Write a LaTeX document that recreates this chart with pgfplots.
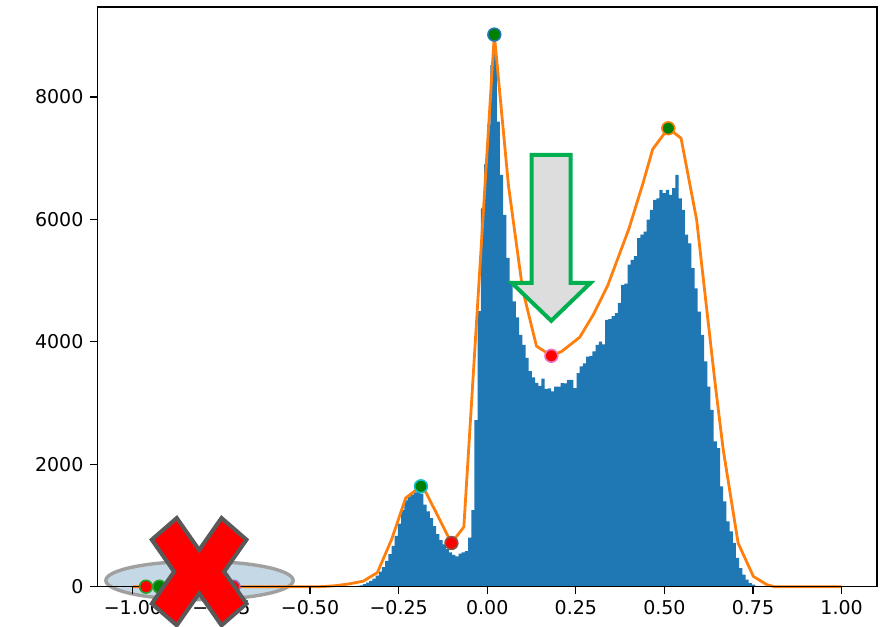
\documentclass[border=0pt]{standalone}
\usepackage{fontspec}
\setmainfont{DejaVu Sans}
\usepackage{pgfplots}
\pgfplotsset{compat=1.18}
\definecolor{c1}{HTML}{1F77B4}
\definecolor{c2}{HTML}{FF7F0E}
\definecolor{mgreen}{HTML}{008000}
\definecolor{ecyan}{HTML}{17BECF}
\definecolor{ebrown}{HTML}{8C564B}
\definecolor{epink}{HTML}{E377C2}
\definecolor{egreen}{HTML}{2CA02C}
\definecolor{epurple}{HTML}{9467BD}
\definecolor{arrgreen}{HTML}{00B050}
\definecolor{arrgray}{HTML}{DDDDDD}
\definecolor{ellblue}{RGB}{196,217,229}
\definecolor{ellgray}{HTML}{A0A0A0}
\definecolor{xgray}{HTML}{595959}
\begin{document}
\begin{tikzpicture}
\begin{axis}[
  scale only axis, width=390pt, height=290pt,
  xmin=-1.1, xmax=1.1, ymin=0, ymax=9471,
  clip=false, axis on top,
  axis line style={line width=0.6pt},
  tick align=outside, xtick pos=left, ytick pos=left,
  major tick length=3.5pt,
  tick style={line width=0.6pt, black},
  xtick={-1,-0.75,-0.5,-0.25,0,0.25,0.5,0.75,1},
  xticklabels={−1.00,−0.75,−0.50,−0.25,0.00,0.25,0.50,0.75,1.00},
  ytick={0,2000,4000,6000,8000},
  yticklabels={0,2000,4000,6000,8000},
  tick label style={font=\fontsize{9.5}{11}\selectfont},
]
\draw[line width=1.7pt, draw=ellgray, fill=ellblue] (axis cs:-0.812,101) ellipse [x radius=46.85pt, y radius=9.6pt];
\addplot[const plot, fill=c1, draw=none] coordinates {
(-0.396,5) (-0.387,8) (-0.378,11) (-0.369,15)
(-0.360,20) (-0.351,40) (-0.342,65) (-0.333,95) (-0.324,130) (-0.315,180)
(-0.306,245) (-0.297,320) (-0.288,420) (-0.279,530) (-0.270,665) (-0.261,830)
(-0.252,1030) (-0.243,1250) (-0.234,1410) (-0.225,1470) (-0.216,1505) (-0.207,1540)
(-0.198,1560) (-0.189,1520) (-0.180,1340) (-0.171,1230) (-0.162,1120) (-0.153,990)
(-0.144,860) (-0.135,760) (-0.126,690) (-0.117,615) (-0.108,560) (-0.099,520)
(-0.090,495) (-0.081,540) (-0.072,560) (-0.063,580) (-0.054,800) (-0.045,1250)
(-0.036,2720) (-0.027,4500) (-0.018,6180) (-0.009,6900) (0.000,7550) (0.009,8520)
(0.018,8700) (0.027,7600) (0.036,6730) (0.045,6075) (0.054,5370) (0.063,4990)
(0.072,4660) (0.081,4400) (0.090,4115) (0.099,3950) (0.108,3740) (0.117,3520)
(0.126,3420) (0.135,3330) (0.144,3280) (0.153,3400) (0.162,3230) (0.171,3240)
(0.180,3190) (0.189,3270) (0.198,3270) (0.207,3325) (0.216,3320) (0.225,3380)
(0.234,3380) (0.243,3245) (0.252,3490) (0.261,3600) (0.270,3650) (0.279,3760)
(0.288,3770) (0.297,3845) (0.306,3950) (0.315,4005) (0.324,3960) (0.333,4360)
(0.342,4370) (0.351,4420) (0.360,4470) (0.369,4635) (0.378,4930) (0.387,4950)
(0.396,5260) (0.405,5340) (0.414,5400) (0.423,5695) (0.432,5750) (0.441,5800)
(0.450,5995) (0.459,6155) (0.468,6320) (0.477,6345) (0.486,6485) (0.495,6430)
(0.504,6485) (0.513,6400) (0.522,6510) (0.531,6730) (0.540,6345) (0.549,6155)
(0.558,5750) (0.567,5610) (0.576,5205) (0.585,4875) (0.594,4495) (0.603,4115)
(0.612,3680) (0.621,3270) (0.630,2890) (0.639,2375) (0.648,2265) (0.657,1640)
(0.666,1395) (0.675,1065) (0.684,905) (0.693,715) (0.702,470) (0.711,305)
(0.720,195) (0.729,115) (0.738,60) (0.747,33) (0.756,15) (0.765,5) (0.774,0)
} \closedcycle;
\addplot[c2, line width=1.4pt, line join=round] coordinates {
(-1,0) (-0.47,0) (-0.43,15) (-0.39,45) (-0.35,90) (-0.31,230) (-0.27,770)
(-0.23,1450) (-0.187,1640) (-0.172,1530) (-0.101,713) (-0.066,975) (0.02,9020)
(0.06,6550) (0.10,4850) (0.139,3930) (0.162,3843) (0.181,3772) (0.21,3843)
(0.261,4075) (0.30,4450) (0.34,4920) (0.40,5850) (0.44,6600) (0.467,7148)
(0.511,7490) (0.547,7327) (0.591,5993) (0.643,3326) (0.666,2237) (0.708,713)
(0.751,168) (0.789,33) (0.81,0) (1.0,0)
};
\addplot[only marks, mark=*, mark size=3.2pt, mark options={fill=mgreen, draw=c1, line width=0.8pt}] coordinates {(0.02,9020)};
\addplot[only marks, mark=*, mark size=3.2pt, mark options={fill=mgreen, draw=ecyan, line width=0.8pt}] coordinates {(-0.187,1640)};
\addplot[only marks, mark=*, mark size=3.2pt, mark options={fill=mgreen, draw=c2, line width=0.8pt}] coordinates {(0.511,7490)};
\addplot[only marks, mark=*, mark size=3.2pt, mark options={fill=red, draw=ebrown, line width=0.8pt}] coordinates {(-0.101,713)};
\addplot[only marks, mark=*, mark size=3.2pt, mark options={fill=red, draw=epink, line width=0.8pt}] coordinates {(0.181,3772)};
\addplot[only marks, mark=*, mark size=3.2pt, mark options={fill=red, draw=egreen, line width=0.8pt}] coordinates {(-0.963,0)};
\addplot[only marks, mark=*, mark size=3.2pt, mark options={fill=mgreen, draw=egreen, line width=0.8pt}] coordinates {(-0.925,0)};
\addplot[only marks, mark=*, mark size=3.2pt, mark options={fill=red, draw=epurple, line width=0.8pt}] coordinates {(-0.716,0)};
\coordinate (tip) at (axis cs:0.1805,4344);
\coordinate (xc) at (axis cs:-0.813,245);
\end{axis}
\begin{scope}[shift={(tip)}]
\draw[line width=2pt, draw=arrgreen, fill=arrgray, line join=miter]
  (0,0) -- (-19.75pt,19pt) -- (-9.75pt,19pt) -- (-9.75pt,83pt) -- (9.75pt,83pt)
  -- (9.75pt,19pt) -- (19.75pt,19pt) -- cycle;
\end{scope}
\begin{scope}[shift={(xc)}]
\draw[line width=2pt, draw=xgray, fill=red, line join=miter]
  (0,10.85pt) -- (11.2pt,26.85pt) -- (23.7pt,16pt) -- (12.5pt,0) -- (23.7pt,-16pt)
  -- (11.2pt,-26.85pt) -- (0,-10.85pt) -- (-11.2pt,-26.85pt) -- (-23.7pt,-16pt)
  -- (-12.5pt,0) -- (-23.7pt,16pt) -- (-11.2pt,26.85pt) -- cycle;
\end{scope}
\pgfresetboundingbox
\useasboundingbox (-48.75pt,-20pt) rectangle (397.5pt,293.5pt);
\end{tikzpicture}
\end{document}
